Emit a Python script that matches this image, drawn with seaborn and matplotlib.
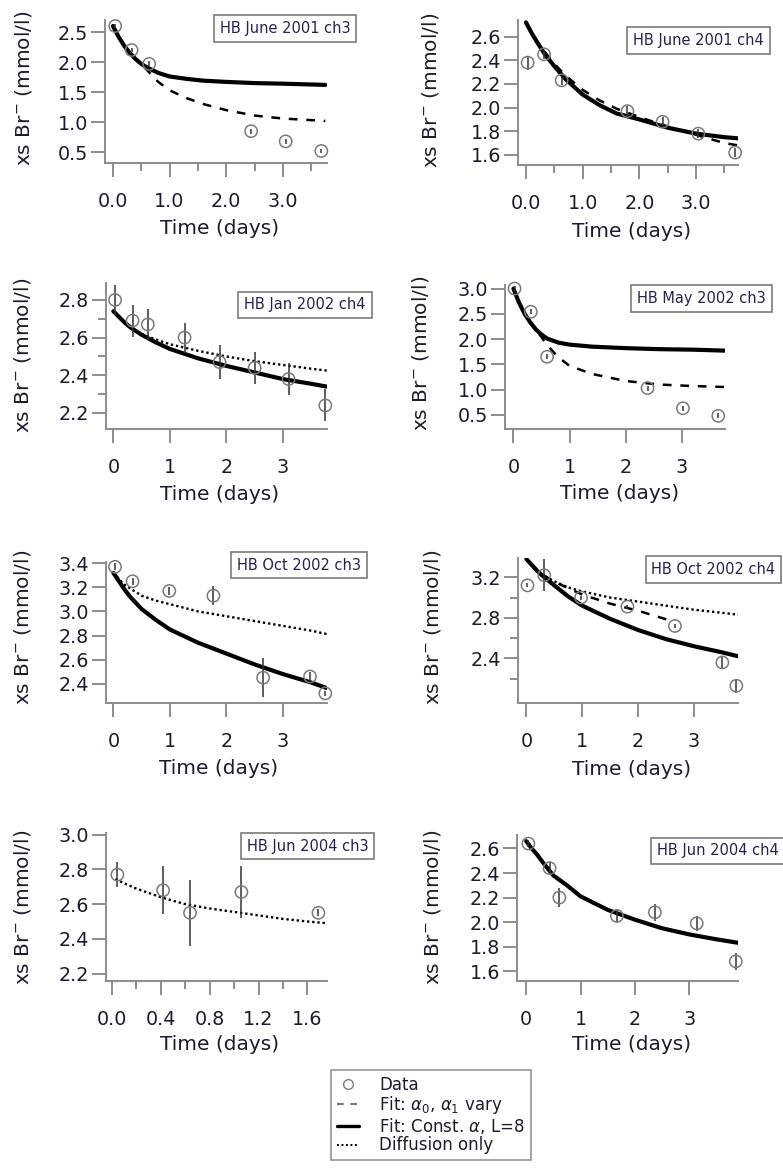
import matplotlib
matplotlib.use("Agg")
import matplotlib.pyplot as plt
import seaborn as sns
from matplotlib.lines import Line2D
from matplotlib.ticker import FixedLocator, FormatStrFormatter

# ---------------- data ----------------
TITLES = ["HB June 2001 ch3", "HB June 2001 ch4", "HB Jan 2002 ch4", "HB May 2002 ch3",
          "HB Oct 2002 ch3", "HB Oct 2002 ch4", "HB Jun 2004 ch3", "HB Jun 2004 ch4"]
X_LABEL = "Time (days)"
Y_LABEL = "xs Br$^{-}$ (mmol/l)"
LEGEND_LABELS = ["Data", r"Fit: $\alpha_0$, $\alpha_1$ vary",
                 r"Fit: Const. $\alpha$, L=8", "Diffusion only"]

# Panel 1: HB June 2001 ch3
p1_t = [0.04, 0.33, 0.64, 2.44, 3.05, 3.68]
p1_y = [2.60, 2.20, 1.97, 0.85, 0.68, 0.52]
p1_err = [0.04, 0.04, 0.04, 0.04, 0.04, 0.04]
p1_fit_t = [0.0, 0.1, 0.2, 0.3, 0.4, 0.5, 0.6, 0.8, 1.0, 1.3, 1.6, 2.0, 2.5, 3.0, 3.75]
p1_const = [2.60, 2.42, 2.27, 2.15, 2.05, 1.97, 1.91, 1.82, 1.76, 1.72, 1.69, 1.67, 1.65, 1.64, 1.62]
p1_vary = [2.60, 2.42, 2.27, 2.15, 2.05, 1.96, 1.87, 1.67, 1.53, 1.40, 1.30, 1.20, 1.11, 1.06, 1.02]

# Panel 2: HB June 2001 ch4
p2_t = [0.03, 0.32, 0.63, 1.79, 2.41, 3.04, 3.69]
p2_y = [2.38, 2.45, 2.23, 1.97, 1.88, 1.78, 1.62]
p2_err = [0.06, 0.04, 0.04, 0.04, 0.04, 0.04, 0.04]
p2_fit_t = [0.0, 0.1, 0.2, 0.35, 0.5, 0.7, 1.0, 1.3, 1.6, 2.0, 2.5, 3.0, 3.5, 3.75]
p2_const = [2.72, 2.63, 2.55, 2.44, 2.35, 2.24, 2.11, 2.02, 1.95, 1.90, 1.83, 1.78, 1.75, 1.74]
p2_vary = [2.72, 2.64, 2.56, 2.46, 2.37, 2.27, 2.15, 2.06, 1.99, 1.92, 1.84, 1.77, 1.70, 1.68]

# Panel 3: HB Jan 2002 ch4
p3_t = [0.03, 0.34, 0.61, 1.26, 1.88, 2.50, 3.10, 3.75]
p3_y = [2.80, 2.69, 2.67, 2.60, 2.47, 2.44, 2.38, 2.24]
p3_err = [0.08, 0.084, 0.08, 0.08, 0.09, 0.085, 0.085, 0.085]
p3_fit_t = [0.0, 0.1, 0.2, 0.3, 0.5, 0.75, 1.0, 1.5, 2.0, 2.5, 3.0, 3.5, 3.78]
p3_const = [2.74, 2.71, 2.68, 2.655, 2.615, 2.575, 2.54, 2.49, 2.45, 2.415, 2.38, 2.355, 2.34]
p3_diff = [2.74, 2.71, 2.68, 2.655, 2.62, 2.59, 2.565, 2.53, 2.50, 2.475, 2.455, 2.435, 2.425]

# Panel 4: HB May 2002 ch3
p4_t = [0.02, 0.31, 0.60, 2.39, 3.02, 3.65]
p4_y = [3.00, 2.54, 1.65, 1.03, 0.63, 0.48]
p4_err = [0.05, 0.05, 0.05, 0.05, 0.05, 0.05]
p4_fit_t = [0.0, 0.1, 0.2, 0.3, 0.4, 0.5, 0.6, 0.8, 1.0, 1.4, 2.0, 2.6, 3.2, 3.8]
p4_const = [3.00, 2.72, 2.50, 2.33, 2.19, 2.09, 2.01, 1.93, 1.89, 1.85, 1.82, 1.80, 1.79, 1.77]
p4_vary = [3.00, 2.72, 2.50, 2.33, 2.18, 2.04, 1.88, 1.64, 1.47, 1.31, 1.17, 1.10, 1.07, 1.05]

# Panel 5: HB Oct 2002 ch3
p5_t = [0.03, 0.34, 0.99, 1.77, 2.65, 3.48, 3.75]
p5_y = [3.37, 3.25, 3.17, 3.13, 2.45, 2.46, 2.32]
p5_err = [0.03, 0.03, 0.03, 0.08, 0.16, 0.04, 0.02]
p5_fit_t = [0.0, 0.1, 0.2, 0.3, 0.5, 0.75, 1.0, 1.5, 2.0, 2.5, 3.0, 3.5, 3.8]
p5_const = [3.32, 3.25, 3.18, 3.12, 3.02, 2.93, 2.85, 2.74, 2.65, 2.56, 2.48, 2.41, 2.36]
p5_diff = [3.32, 3.27, 3.22, 3.19, 3.13, 3.09, 3.06, 3.00, 2.96, 2.92, 2.88, 2.84, 2.81]

# Panel 6: HB Oct 2002 ch4
p6_t = [0.02, 0.32, 0.98, 1.81, 2.66, 3.51, 3.76]
p6_y = [3.12, 3.22, 3.00, 2.91, 2.72, 2.36, 2.13]
p6_err = [0.02, 0.16, 0.02, 0.02, 0.02, 0.05, 0.07]
p6_fit_t = [0.0, 0.1, 0.2, 0.3, 0.5, 0.75, 1.0, 1.5, 2.0, 2.5, 3.0, 3.5, 3.8]
p6_const = [3.38, 3.32, 3.26, 3.21, 3.12, 3.01, 2.92, 2.79, 2.68, 2.59, 2.52, 2.46, 2.42]
p6_diff = [3.38, 3.31, 3.26, 3.22, 3.16, 3.10, 3.06, 3.00, 2.96, 2.92, 2.88, 2.85, 2.83]
p6_vary_t = [0.3, 0.6, 1.0, 1.5, 2.0, 2.3, 2.65]
p6_vary = [3.22, 3.13, 3.03, 2.94, 2.87, 2.82, 2.76]

# Panel 7: HB Jun 2004 ch3
p7_t = [0.046, 0.42, 0.64, 1.06, 1.69]
p7_y = [2.77, 2.68, 2.55, 2.67, 2.55]
p7_err = [0.072, 0.137, 0.19, 0.15, 0.02]
p7_fit_t = [0.03, 0.1, 0.2, 0.3, 0.4, 0.6, 0.8, 1.0, 1.2, 1.4, 1.6, 1.76]
p7_diff = [2.745, 2.72, 2.69, 2.665, 2.64, 2.60, 2.575, 2.555, 2.535, 2.515, 2.50, 2.49]

# Panel 8: HB Jun 2004 ch4
p8_t = [0.04, 0.43, 0.61, 1.67, 2.37, 3.14, 3.86]
p8_y = [2.64, 2.44, 2.20, 2.05, 2.08, 1.99, 1.68]
p8_err = [0.03, 0.05, 0.08, 0.05, 0.07, 0.06, 0.07]
p8_fit_t = [0.0, 0.1, 0.2, 0.3, 0.5, 0.75, 1.0, 1.5, 2.0, 2.5, 3.0, 3.5, 3.92]
p8_const = [2.66, 2.60, 2.55, 2.49, 2.38, 2.30, 2.21, 2.10, 2.02, 1.95, 1.90, 1.86, 1.83]

# ---------------- style ----------------
sns.set_style("ticks")
plt.rcParams["font.family"] = ["DejaVu Sans"]
plt.rcParams["mathtext.fontset"] = "dejavusans"

W, H = 783, 1169
fig = plt.figure(figsize=(W / 100, H / 100), dpi=100)
fig.patch.set_facecolor("white")

AXIS_GRAY = "#8c8c8c"
TEXT_COL = "#1c1c2c"
PT_GRAY = "#7a7a7a"


def fx(px):
    return px / W


def fy(py):
    return 1 - py / H


def draw_panel(rect, data_t, data_y, data_err, curves, xlim, ylim, xmaj, xmin, xfmt,
               ymaj, ymin, title, title_xy, ylab_xy, xlab_xy):
    x0, x1, ytop, ybot = rect
    ax = fig.add_axes([fx(x0), fy(ybot), (x1 - x0) / W, (ybot - ytop) / H])
    ax.set_facecolor("white")
    for t, y, style in curves:
        if style == "const":
            sns.lineplot(x=t, y=y, ax=ax, color="black", lw=3.0, estimator=None,
                         sort=False, zorder=3)
        elif style == "vary":
            sns.lineplot(x=t, y=y, ax=ax, color="black", lw=1.8, estimator=None,
                         sort=False, linestyle=(0, (3.5, 3.5)), zorder=2)
        else:
            sns.lineplot(x=t, y=y, ax=ax, color="black", lw=1.7, estimator=None,
                         sort=False, linestyle=(0, (1.0, 1.2)), zorder=2)
    ax.errorbar(data_t, data_y, yerr=data_err, fmt="none", ecolor="#333333",
                elinewidth=1.1, capsize=0, zorder=4, clip_on=False)
    sns.scatterplot(x=data_t, y=data_y, ax=ax, marker="o", s=78, facecolor="none",
                    edgecolor=PT_GRAY, linewidth=1.1, zorder=5, clip_on=False)
    ax.set_xlim(*xlim)
    ax.set_ylim(*ylim)
    ax.xaxis.set_major_locator(FixedLocator(xmaj))
    ax.xaxis.set_minor_locator(FixedLocator(xmin))
    ax.yaxis.set_major_locator(FixedLocator(ymaj))
    ax.yaxis.set_minor_locator(FixedLocator(ymin))
    ax.xaxis.set_major_formatter(FormatStrFormatter(xfmt))
    ax.yaxis.set_major_formatter(FormatStrFormatter("%.1f"))
    for s in ["top", "right"]:
        ax.spines[s].set_visible(False)
    for s in ["left", "bottom"]:
        ax.spines[s].set_color(AXIS_GRAY)
        ax.spines[s].set_linewidth(1.4)
    ax.tick_params(which="major", direction="out", length=10, width=1.4,
                   color=AXIS_GRAY, labelsize=13.8, labelcolor=TEXT_COL)
    ax.tick_params(which="minor", direction="out", length=6, width=1.4, color=AXIS_GRAY)
    ax.tick_params(axis="x", which="major", pad=11)
    ax.tick_params(axis="y", which="major", pad=2)
    ax.set_xlabel(X_LABEL, fontsize=14.5, color=TEXT_COL)
    ax.set_ylabel(Y_LABEL, fontsize=14.5, color=TEXT_COL)
    ax.xaxis.set_label_coords(fx(xlab_xy[0]), fy(xlab_xy[1]), transform=fig.transFigure)
    ax.yaxis.set_label_coords(fx(ylab_xy[0]), fy(ylab_xy[1]), transform=fig.transFigure)
    fig.text(fx(title_xy[0]), fy(title_xy[1]), title, ha="center", va="center",
             fontsize=10.5, color="#2a2050",
             bbox=dict(boxstyle="square,pad=0.4", fc="white", ec="#7a7a7a", lw=1.2))
    return ax


ws_x1 = [0, 1, 2, 3]
ws_xmin = [0.5, 1.5, 2.5, 3.5]
ints = [0, 1, 2, 3]

draw_panel((105, 327, 20, 163), p1_t, p1_y, p1_err,
           [(p1_fit_t, p1_vary, "vary"), (p1_fit_t, p1_const, "const")],
           (-0.14, 3.78), (0.32, 2.70), ws_x1, ws_xmin, "%.1f",
           [0.5, 1.0, 1.5, 2.0, 2.5], [], TITLES[0], (285, 28.5), (34, 88), (220, 219))

draw_panel((518, 738, 20, 165), p2_t, p2_y, p2_err,
           [(p2_fit_t, p2_vary, "vary"), (p2_fit_t, p2_const, "const")],
           (-0.14, 3.74), (1.515, 2.74), ws_x1, ws_xmin, "%.1f",
           [1.6, 1.8, 2.0, 2.2, 2.4, 2.6], [], TITLES[1], (698.5, 40.5), (441, 90), (632, 222))

draw_panel((106, 327, 283, 429), p3_t, p3_y, p3_err,
           [(p3_fit_t, p3_diff, "diff"), (p3_fit_t, p3_const, "const")],
           (-0.13, 3.78), (2.115, 2.89), ints, [], "%d",
           [2.2, 2.4, 2.6, 2.8], [2.3, 2.5, 2.7], TITLES[2], (305, 305), (33, 355), (220, 485))

draw_panel((505, 725, 285, 429), p4_t, p4_y, p4_err,
           [(p4_fit_t, p4_vary, "vary"), (p4_fit_t, p4_const, "const")],
           (-0.15, 3.77), (0.22, 3.07), ints, [], "%d",
           [0.5, 1.0, 1.5, 2.0, 2.5, 3.0], [], TITLES[3], (701.5, 298.5), (431, 353), (620, 484))

draw_panel((106, 327, 562, 703), p5_t, p5_y, p5_err,
           [(p5_fit_t, p5_diff, "diff"), (p5_fit_t, p5_const, "const")],
           (-0.13, 3.78), (2.24, 3.41), ints, [], "%d",
           [2.4, 2.6, 2.8, 3.0, 3.2, 3.4], [], TITLES[4], (299, 565), (33, 627), (219, 759))

draw_panel((518, 738, 558, 703), p6_t, p6_y, p6_err,
           [(p6_fit_t, p6_diff, "diff"), (p6_vary_t, p6_vary, "vary"),
            (p6_fit_t, p6_const, "const")],
           (-0.15, 3.79), (1.96, 3.39), ints, [], "%d",
           [2.4, 2.8, 3.2], [2.2, 2.6, 3.0], TITLES[5], (713.5, 569.5), (443, 627), (632, 760))

draw_panel((106, 327, 833, 981), p7_t, p7_y, p7_err,
           [(p7_fit_t, p7_diff, "diff")],
           (-0.047, 1.76), (2.157, 3.01), [0.0, 0.4, 0.8, 1.2, 1.6], [0.2, 0.6, 1.0, 1.4], "%.1f",
           [2.2, 2.4, 2.6, 2.8, 3.0], [], TITLES[6], (307.5, 846), (33, 907), (220, 1035))

draw_panel((517, 738, 835, 981), p8_t, p8_y, p8_err,
           [(p8_fit_t, p8_const, "const")],
           (-0.17, 3.9), (1.52, 2.71), ints, [], "%d",
           [1.6, 1.8, 2.0, 2.2, 2.4, 2.6], [], TITLES[7], (717.5, 851), (443, 907), (632, 1035))

# ---------------- legend ----------------
handles = [
    Line2D([], [], marker="o", linestyle="none", markerfacecolor="none",
           markeredgecolor=PT_GRAY, markersize=7),
    Line2D([], [], color="#777777", lw=1.6, linestyle=(0, (3, 3))),
    Line2D([], [], color="black", lw=2.4),
    Line2D([], [], color="black", lw=1.4, linestyle=(0, (1, 1.3))),
]
leg = fig.legend(handles, LEGEND_LABELS, loc="center",
                 bbox_to_anchor=(fx(431), fy(1115)), fontsize=12,
                 frameon=True, fancybox=False, edgecolor="#7a7a7a",
                 handlelength=1.35, handletextpad=1.2, labelspacing=0.02,
                 borderpad=0.35, borderaxespad=0.0)
leg.get_frame().set_linewidth(1.2)
for txt in leg.get_texts():
    txt.set_color(TEXT_COL)

fig.savefig("out.png", dpi=100, facecolor="white")
